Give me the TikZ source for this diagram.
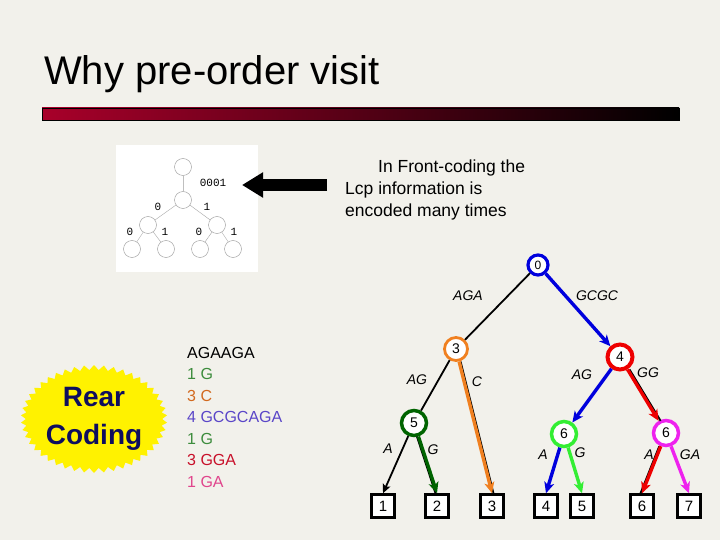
\documentclass[tikz,border=0pt]{standalone}
\usepackage{fontspec}
\setmainfont{Liberation Sans}
\newfontfamily\monofont{Liberation Mono}
\usepackage{tikz}
\usetikzlibrary{shapes,positioning,calc}
\usetikzlibrary{arrows.meta}
\definecolor{slidebg}{HTML}{F2F1EB}
\definecolor{barred}{HTML}{A8002A}
\definecolor{navy}{HTML}{0E0E5E}
\definecolor{cblue}{HTML}{0000DD}
\definecolor{cred}{HTML}{EE0000}
\definecolor{corange}{HTML}{F08020}
\definecolor{cdgreen}{HTML}{006400}
\definecolor{clgreen}{HTML}{33EE33}
\definecolor{cmag}{HTML}{EE22EE}
\definecolor{lgreen}{HTML}{3C8C3C}
\definecolor{lorange}{HTML}{D2691E}
\definecolor{lpurple}{HTML}{5A46C8}
\definecolor{lred}{HTML}{C8102A}
\definecolor{lpink}{HTML}{E0458C}
\tikzstyle{knot} = [circle, fill=white, minimum size=25pt, inner sep=0pt, line width=3.5pt, font=\fontsize{14}{14}\selectfont]
\tikzstyle{leaf} = [rectangle, fill=white, draw=black, line width=2.5pt, minimum size=23pt, inner sep=0pt, font=\fontsize{15}{15}\selectfont]
\tikzstyle{lbl} = [font=\fontsize{14}{14}\selectfont\itshape]
\tikzstyle{thinedge} = [black, line width=1.8pt]
\tikzstyle{arrow} = [line width=3.4pt, -{Stealth[length=11pt,width=10pt,inset=3pt]}]
\tikzstyle{ball} = [circle, draw=gray!80, minimum size=17pt, inner sep=0pt, fill=white]
\tikzstyle{bit} = [font=\monofont\fontsize{11}{11}\selectfont]

\begin{document}
\begin{tikzpicture}[x=1pt,y=-1pt]
\fill[slidebg] (0,0) rectangle (720,540);
\useasboundingbox (0,0) rectangle (720,540);
% title and bar
\node[anchor=base west, inner sep=0pt, font=\fontsize{40}{40}\selectfont] (title) at (44,85) {Why pre-order visit};
\shade[left color=barred, right color=black, draw=black, line width=0.8pt] (42,108) rectangle (679,120);
% small picture of a binary trie
\node[fill=white, minimum width=142pt, minimum height=127pt] (pic) at (187,208.5) {};
\node (b0) at (183,167) [ball] {};
\node (b1) at (183,200) [ball] {};
\node (b2) at (148,225) [ball] {};
\node (b3) at (217,225) [ball] {};
\node (b4) at (132,249) [ball] {};
\node (b5) at (166,249) [ball] {};
\node (b6) at (200,249) [ball] {};
\node (b7) at (233,249) [ball] {};
\draw[gray!50] (b0) -- (b1);
\draw[gray!70] (b1) -- (b2);
\draw[gray!70] (b1) -- (b3);
\draw[gray!70] (b2) -- (b4);
\draw[gray!70] (b2) -- (b5);
\draw[gray!70] (b3) -- (b6);
\draw[gray!70] (b3) -- (b7);
\node[bit] (k0) at (213,183) {0001};
\node[bit] (k1) at (158,207) {0};
\node[bit] (k2) at (207,207) {1};
\node[bit] (k3) at (130,232) {0};
\node[bit] (k4) at (165,232) {1};
\node[bit] (k5) at (199,232) {0};
\node[bit] (k6) at (234,232) {1};
\coordinate (tail) at (327,185);
\coordinate (tip) at (242,185);
\draw[line width=12pt, -{Triangle[length=21pt,width=24pt]}] (tail) -- (tip);
\node[anchor=north west, inner sep=0pt, align=left, font=\fontsize{17.5}{22}\selectfont] (note) at (345,160)
  {\hspace*{33pt}In Front-coding the\\Lcp information is\\encoded many times};
% rear coding
\node[starburst, starburst points=46, starburst point height=5pt, random starburst=0, fill=yellow, draw=none,
  minimum width=144pt, minimum height=108pt, inner sep=0pt, align=center, text=navy,
  font=\bfseries\fontsize{28}{38}\selectfont] (rear) at (94,419) {Rear\\Coding};
\node[anchor=north west, inner sep=0pt, align=left, font=\fontsize{16}{21.5}\selectfont] (codes) at (187,347)
  {AGAAGA\\\textcolor{lgreen}{1 G}\\\textcolor{lorange}{3 C}\\\textcolor{lpurple}{4 GCGCAGA}\\
   \textcolor{lgreen}{1 G}\\\textcolor{lred}{3 GGA}\\\textcolor{lpink}{1 GA}};
% tree
\node (root) at (538,265) [knot, draw=cblue, minimum size=20pt, line width=3.2pt, font=\fontsize{12}{12}\selectfont] {0};
\node (n3) at (456,349) [knot, draw=corange, minimum size=23pt, line width=2.8pt] {3};
\node (n4) at (620,357) [knot, draw=cred, line width=4pt] {4};
\node (n5) at (414,423) [knot, draw=cdgreen] {5};
\node (n6a) at (564,434) [knot, draw=clgreen] {6};
\node (n6b) at (666,433) [knot, draw=cmag] {6};
\node (l1) at (383,506) [leaf] {1};
\node (l2) at (437,506) [leaf] {2};
\node (l3) at (492,506) [leaf] {3};
\node (l4) at (546,506) [leaf] {4};
\node (l5) at (582,506) [leaf] {5};
\node (l6) at (642,506) [leaf] {6};
\node (l7) at (689,506) [leaf] {7};
\draw[thinedge] (root) -- (n3);
\draw[arrow, cblue] (root) -- (n4);
\draw[thinedge] (n3) -- (n5);
\draw[thinedge, transform canvas={xshift=1.5pt}] (n3) -- (l3.north);
\draw[arrow, corange] (n3) -- (l3.north);
\draw[arrow, cblue] (n4) -- (n6a);
\draw[thinedge, transform canvas={xshift=2pt}] (n4) -- (n6b);
\draw[arrow, cred] (n4) -- (n6b);
\draw[thinedge, -{Stealth[length=9pt,width=8pt,inset=2pt]}] (n5) -- (l1.north);
\draw[thinedge, transform canvas={xshift=-1.5pt}] (n5) -- (l2.north);
\draw[arrow, cdgreen] (n5) -- (l2.north);
\draw[arrow, cblue] (n6a) -- (l4.north);
\draw[arrow, clgreen] (n6a) -- (l5.north);
\draw[thinedge, transform canvas={xshift=-1.5pt}] (n6b) -- (l6.north);
\draw[arrow, cred] (n6b) -- (l6.north);
\draw[arrow, cmag] (n6b) -- (l7.north);
\node[lbl] (e1) at (468,296) {AGA};
\node[lbl] (e2) at (597,296) {GCGC};
\node[lbl] (e3) at (417,380) {AG};
\node[lbl] (e4) at (477,382) {C};
\node[lbl] (e5) at (582,375) {AG};
\node[lbl] (e6) at (648,373) {GG};
\node[lbl] (e7) at (388,449) {A};
\node[lbl] (e8) at (433,450) {G};
\node[lbl] (e9) at (543,455) {A};
\node[lbl] (e10) at (580,453) {G};
\node[lbl] (e11) at (649,455) {A};
\node[lbl] (e12) at (690,455) {GA};
\end{tikzpicture}
\end{document}
